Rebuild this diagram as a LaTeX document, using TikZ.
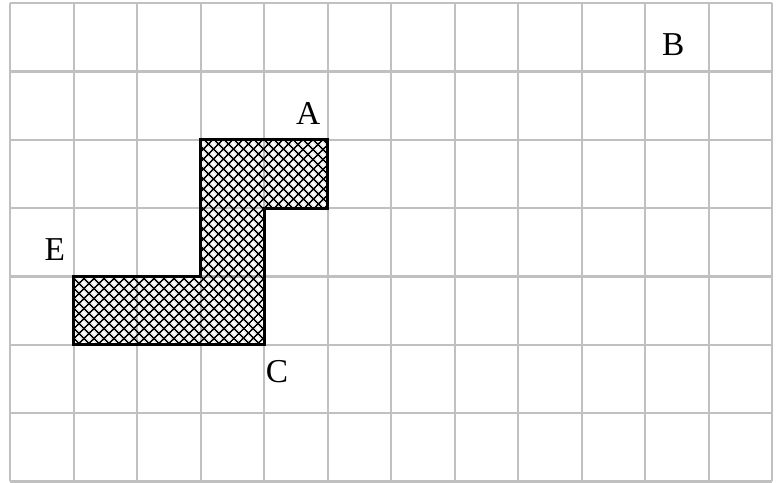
\documentclass[tikz,border=0pt]{standalone}
\usepackage{fontspec}
\setmainfont{Liberation Serif}
\usetikzlibrary{patterns.meta}
\definecolor{gridgray}{RGB}{192,192,192}
\begin{document}
\begin{tikzpicture}[x=1.27cm, y=1.366cm]
  \tikzset{
    gridline/.style={draw=gridgray, line width=1.3pt},
    hatched/.style={draw=black, line width=1.7pt, pattern={Hatch[angle=45, distance=4pt, line width=0.9pt]}},
    letter/.style={font=\fontsize{19}{23}\selectfont, inner sep=0pt}
  }
  \useasboundingbox (-0.162, -0.023) rectangle (12.106, 7.048);
  % Grid
  \draw[gridline, step={(1,1)}] (0, 0) grid (12, 7);
  % Shape
  \draw[hatched] (3, 5) -- (5, 5) -- (5, 4) -- (4, 4) -- (4, 2) -- (1, 2) -- (1, 3) -- (3, 3) -- cycle;
  % Labels
  \node (A) [letter] at (4.69, 5.39) {A};
  \node (B) [letter] at (10.44, 6.39) {B};
  \node (C) [letter] at (4.2, 1.6) {C};
  \node (E) [letter] at (0.7, 3.39) {E};
\end{tikzpicture}
\end{document}
